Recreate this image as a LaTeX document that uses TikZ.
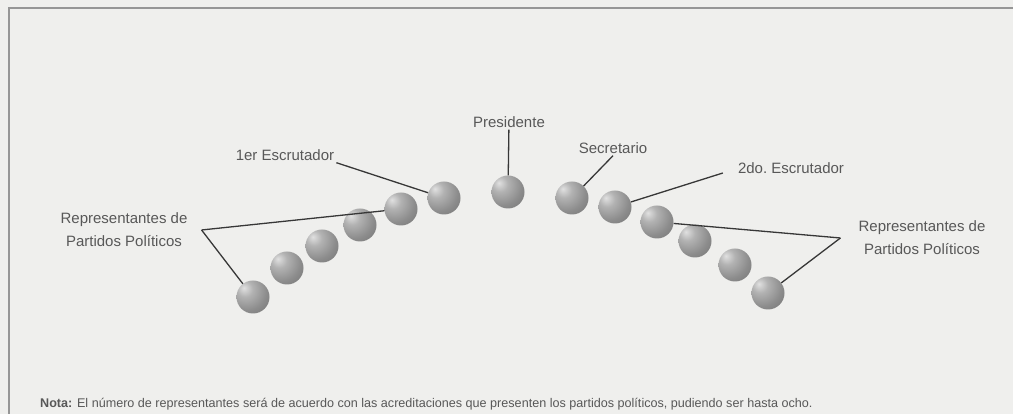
\documentclass[tikz,border=0pt]{standalone}
\usepackage{fontspec}
\setmainfont{Liberation Sans}
\usetikzlibrary{positioning}
\definecolor{fondo}{RGB}{239,239,237}
\definecolor{texto}{RGB}{88,88,88}
\definecolor{linea}{RGB}{55,55,55}
\definecolor{marco}{RGB}{150,150,150}
\pgfdeclareradialshading{bolagris}{\pgfpoint{-14bp}{14bp}}{%
  color(0bp)=(black!12); color(12bp)=(black!30); color(30bp)=(black!45);
  color(52bp)=(black!58); color(70bp)=(black!62); color(100bp)=(black!62)}

\begin{document}
\begin{tikzpicture}[x = 1pt, y = 1pt]
  \tikzstyle{every node} = [node distance = 12pt,
			    inner sep = 2pt,
			    text = texto,
			    font = \fontsize{15}{23}\selectfont]
\tikzset{Bola/.style = {circle, minimum size = 33pt, inner sep = 0pt,
                        shading = bolagris}}
\tikzset{Linea/.style = {draw = linea, line width = 1.3pt}}
\useasboundingbox (0,0) rectangle (1013,414);
\fill[fondo] (0,0) rectangle (1013,414);
\draw[marco, line width = 1.5pt] (9,0) -- (9,406) -- (1013,406);

% mesa
\node[Bola] (RI1) at (253,117) {};
\node[Bola] (RI2) at (287,146) {};
\node[Bola] (RI3) at (322,168) {};
\node[Bola] (RI4) at (360,189) {};
\node[Bola] (RI5) at (401,205) {};
\node[Bola] (E1) at (444,216) {};
\node[Bola] (P) at (508,222) {};
\node[Bola] (S) at (572,216) {};
\node[Bola] (E2) at (615,207) {};
\node[Bola] (RD1) at (657,192) {};
\node[Bola] (RD2) at (695,173) {};
\node[Bola] (RD3) at (735,149) {};
\node[Bola] (RD4) at (768,121) {};

% etiquetas
\node[align = center] (RepI) at (124,184) {Representantes de\\Partidos Políticos};
\node (E1Et) at (285,259) {1er Escrutador};
\node (PEt) at (509,292) {Presidente};
\node (SEt) at (613,266) {Secretario};
\node (E2Et) at (791,246) {2do.\ Escrutador};
\node[align = center] (RepD) at (922,176) {Representantes de\\Partidos Políticos};
\coordinate[right = of RepI.east] (PuntaI);
\coordinate[left = 16pt of RepD.west] (PuntaD);
\coordinate[below left = 5pt and 13pt of E2Et.west] (PuntaE2);

\draw[Linea] (PuntaI) -- (RI1);
\draw[Linea] (PuntaI) -- (RI5);
\draw[Linea] (E1Et.south east) -- (E1);
\draw[Linea] (PEt) -- (P);
\draw[Linea] (SEt.south) -- (S);
\draw[Linea] (PuntaE2) -- (E2);
\draw[Linea] (PuntaD) -- (RD1);
\draw[Linea] (PuntaD) -- (RD4);

\node[anchor = west, font = \fontsize{12.6}{14}\selectfont] (Nota) at (38,10)
  {\textbf{Nota:} El número de representantes será de acuerdo con las acreditaciones que presenten los partidos políticos, pudiendo ser hasta ocho.};

\end{tikzpicture}
\end{document}
